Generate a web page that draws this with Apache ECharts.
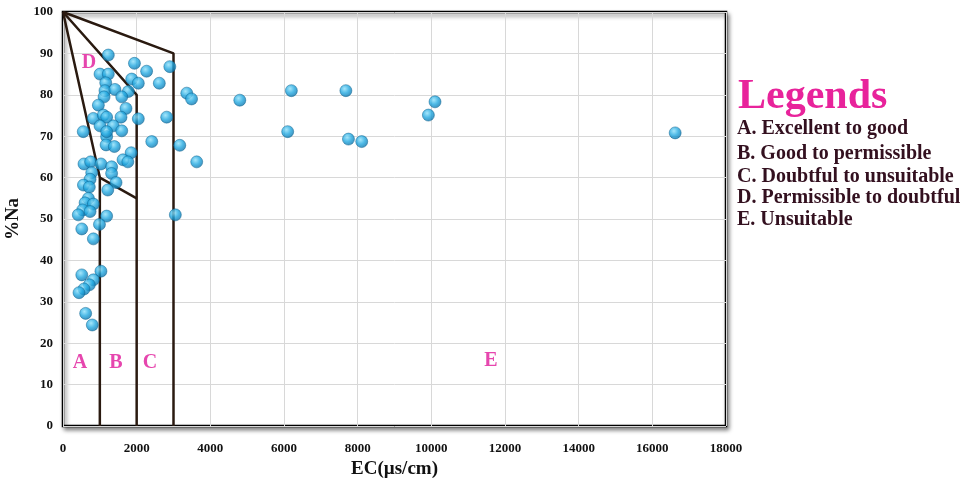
<!DOCTYPE html>
<html><head><meta charset="utf-8">
<script src="https://cdn.jsdelivr.net/npm/echarts@6/dist/echarts.min.js"></script>
<style>html,body{margin:0;padding:0;background:#fff}#c{width:977px;height:480px}</style>
</head><body><div id="c"></div>
<script>
const ecValues = [1230,1940,2270,2900,1005,1230,1865,2045,2615,1160,1140,1410,1775,1115,1595,3360,3490,960,1710,825,1095,1185,1575,2045,2815,550,1005,1365,1595,1185,2410,1185,3170,1170,1395,1850,1630,1760,3630,570,750,1030,1320,780,1320,735,1440,555,715,1215,690,600,825,535,735,415,1185,3050,510,990,825,510,1030,825,715,570,435,615,795,4800,6200,7680,6100,7750,8110,10100,9920,16620];
const naValues = [89.6,87.6,85.7,86.8,85,85,83.8,82.8,82.8,82.9,81,81.3,80.8,79.5,79.5,80.4,79,77.5,76.7,74.3,75.1,74.6,74.6,74.2,74.6,71.1,72.5,72.5,71.3,69.9,68.7,71.1,67.8,67.9,67.5,66,64.3,63.8,63.8,63.3,63.8,63.3,62.6,61.2,61,59.6,58.8,58.2,57.7,57,55,53.9,53.6,52.2,51.8,51,50.7,51,47.6,48.7,45.2,36.5,37.4,35.3,34.1,33.1,32.2,27.2,24.4,78.7,81,81,71.1,69.3,68.7,78.3,75.1,70.8];
const xTicks = [0,2000,4000,6000,8000,10000,12000,14000,16000,18000];
const yTicks = [0,10,20,30,40,50,60,70,80,90,100];
const boundaries = [
  [[0,100],[1000,60],[1000,0]],
  [[1000,60],[2000,55]],
  [[0,100],[2000,80],[2000,0]],
  [[0,100],[3000,90],[3000,0]]
];
const zoneNames = ['A','B','C','D','E'];
const zoneX = [460,1440,2360,706,11620];
const zoneY = [15.2,15.2,15.2,87.7,15.7];
const legendTitle = 'Legends';
const legendItems = ['A. Excellent to good','B. Good to permissible','C. Doubtful to unsuitable','D. Permissible to doubtful','E. Unsuitable'];

const serif = '"Liberation Serif","DejaVu Serif",serif';
const chart = echarts.init(document.getElementById('c'));
const series = [];
boundaries.forEach(b => series.push({
  type:'line', data:b, symbol:'none', silent:true,
  lineStyle:{color:'#2a1a10', width:2.5}, z:3
}));
series.push({
  type:'scatter', data: ecValues.map((v,i)=>[v,naValues[i]]), symbolSize:12, z:5,
  itemStyle:{
    color:{type:'radial',x:0.4,y:0.35,r:0.7,colorStops:[{offset:0,color:'#8fe0fa'},{offset:0.5,color:'#22a8e0'},{offset:1,color:'#0a6fa6'}]},
    borderColor:'#0b5f8c', borderWidth:0.6
  }
});
series.push({
  type:'scatter', data: zoneNames.map((n,i)=>({value:[zoneX[i],zoneY[i]], name:n})), symbolSize:1, z:6, silent:true,
  itemStyle:{color:'transparent'},
  label:{show:true, position:'inside', formatter:p=>p.name, color:'#e0189a', fontFamily:serif, fontWeight:'bold', fontSize:20}
});
const option = {
  animation:false,
  backgroundColor:'#fff',
  grid:{left:63, right:251, top:12, bottom:54, containLabel:false, outerBoundsMode:'none',
        show:true, borderColor:'#000', borderWidth:2.5,
        backgroundColor:'#fff', shadowColor:'rgba(0,0,0,0.45)', shadowBlur:4, shadowOffsetX:2, shadowOffsetY:3},
  xAxis:{type:'value', min:0, max:18000, interval:2000,
    name:'EC(µs/cm)', nameLocation:'middle', nameGap:31,
    nameTextStyle:{fontFamily:serif, fontWeight:'bold', fontSize:19, color:'#111'},
    axisLine:{show:false}, axisTick:{show:false},
    axisLabel:{fontFamily:serif, fontWeight:'bold', fontSize:13, color:'#111', margin:16,
      formatter:v=>xTicks.includes(v)?String(v):''},
    splitLine:{lineStyle:{color:'#d8d8d8', width:1}}},
  yAxis:{type:'value', min:0, max:100, interval:10,
    name:'%Na', nameLocation:'middle', nameGap:36, nameRotate:90,
    nameTextStyle:{fontFamily:serif, fontWeight:'bold', fontSize:19, color:'#111'},
    axisLine:{show:false}, axisTick:{show:false},
    axisLabel:{fontFamily:serif, fontWeight:'bold', fontSize:13, color:'#111', margin:10,
      formatter:v=>yTicks.includes(v)?String(v):''},
    splitLine:{lineStyle:{color:'#d8d8d8', width:1}}},
  graphic:[
    {type:'text', left:738, top:76, style:{text:legendTitle, fontFamily:serif, fontWeight:'bold', fontSize:42, fill:'#e8239b'}},
    ...legendItems.map((t,i)=>({type:'text', left:737, top:[119,144,167,188,210][i],
      style:{text:t, fontFamily:serif, fontWeight:'bold', fontSize:20, fill:'#33101f'}}))
  ],
  series
};
chart.setOption(option);
</script></body></html>
